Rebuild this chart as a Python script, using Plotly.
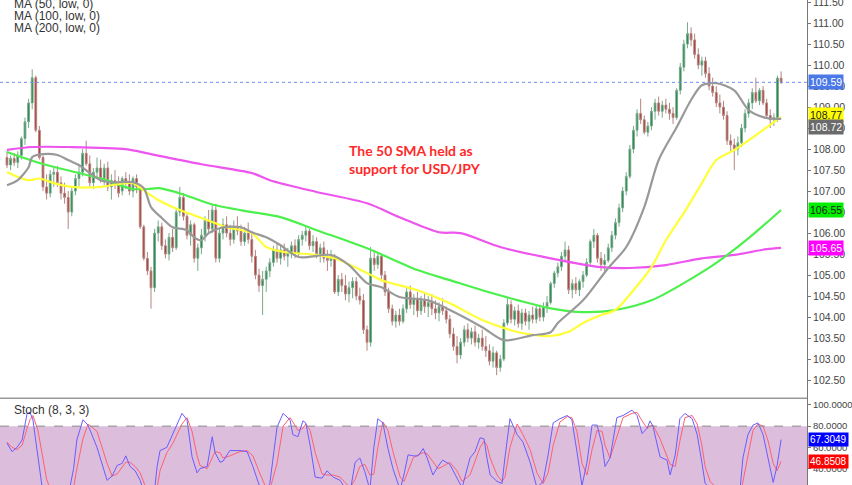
import plotly.graph_objects as go

# ---------------- DATA ----------------
OPEN = [107.80,107.62,107.78,107.68,107.85,108.25,108.65,109.10,109.70,108.45,
        107.80,107.10,106.95,107.40,107.45,107.20,106.95,106.85,106.50,107.00,
        107.30,107.45,107.90,107.65,107.20,107.45,107.55,107.30,107.55,107.10,
        107.25,107.15,107.00,107.30,107.20,107.00,107.30,107.10,106.15,105.40,
        105.10,104.70,106.00,106.15,105.70,105.50,105.90,105.65,106.50,106.85,
        106.40,105.95,106.20,105.40,105.65,105.95,106.30,106.10,106.55,105.40,
        106.00,106.20,106.00,105.85,106.15,106.05,105.80,106.00,105.85,105.45,
        105.00,104.75,104.90,105.10,105.30,105.60,105.40,105.60,105.45,105.55,
        105.70,105.50,105.85,105.95,106.05,105.70,105.80,105.50,105.65,105.40,
        105.35,105.45,104.60,104.90,104.75,104.55,104.70,104.85,104.50,104.40,
        103.70,103.40,105.40,105.25,105.45,105.00,104.60,104.20,103.90,104.05,
        103.90,104.20,104.60,104.30,104.45,104.15,104.40,104.25,104.35,104.20,
        104.10,104.25,104.15,103.95,103.60,103.30,103.10,103.40,103.70,103.50,
        103.65,103.40,103.50,103.30,103.20,102.95,103.15,102.80,103.00,103.86,
        104.30,103.95,104.15,103.85,104.10,103.90,104.05,103.95,104.20,104.00,
        104.25,104.35,104.80,105.05,105.20,105.45,105.60,104.65,104.80,104.65,
        104.85,105.00,105.30,105.80,105.95,105.40,105.25,105.35,105.65,105.95,
        106.25,106.60,107.00,107.35,108.00,108.45,108.85,108.70,108.40,108.55,
        108.90,109.10,108.90,109.05,108.95,108.85,108.75,109.40,109.95,110.50,
        110.75,110.60,110.25,110.00,110.10,109.80,109.50,109.35,109.10,109.00,
        108.80,108.20,108.10,108.00,108.15,108.50,108.85,109.10,109.35,109.15,
        109.40,109.10,108.80,108.70,108.75,109.69]
HIGH = [107.95,107.85,107.90,107.95,108.30,108.75,109.20,109.90,109.75,108.55,
        107.85,107.40,107.50,107.55,107.60,107.35,107.20,107.00,107.10,107.40,
        107.60,108.00,108.20,107.85,107.55,107.80,107.75,107.65,107.70,107.40,
        107.50,107.35,107.35,107.45,107.40,107.35,107.40,107.15,106.20,105.55,
        105.20,106.10,106.30,106.25,105.85,106.00,106.10,106.60,107.10,106.95,
        106.50,106.30,106.25,105.75,106.10,106.40,106.55,106.70,106.70,106.10,
        106.35,106.40,106.20,106.30,106.40,106.20,106.15,106.25,106.00,105.60,
        105.15,105.10,105.20,105.40,105.70,105.75,105.70,105.75,105.65,105.80,
        105.85,105.95,106.05,106.14,106.10,105.95,105.90,105.75,105.80,105.60,
        105.60,105.50,105.00,105.05,105.00,104.85,104.95,104.95,104.70,104.55,
        103.80,105.67,105.60,105.55,105.50,105.10,104.70,104.30,104.15,104.20,
        104.30,104.70,104.75,104.55,104.60,104.50,104.55,104.50,104.55,104.40,
        104.35,104.45,104.25,104.05,103.75,103.55,103.50,103.80,103.85,103.75,
        103.80,103.60,103.70,103.55,103.35,103.30,103.20,103.10,103.95,104.45,
        104.40,104.25,104.30,104.20,104.20,104.15,104.25,104.30,104.30,104.35,
        104.50,104.85,105.10,105.30,105.55,105.80,105.70,104.90,104.95,104.90,
        105.10,105.40,105.85,106.10,106.00,105.55,105.50,105.75,106.05,106.35,
        106.70,107.10,107.45,108.10,108.55,108.95,109.20,108.80,108.65,109.00,
        109.20,109.25,109.15,109.20,109.10,109.00,109.45,110.05,110.60,111.02,
        110.90,110.75,110.40,110.20,110.20,109.95,109.70,109.50,109.30,109.15,
        108.90,108.35,108.25,108.30,108.60,108.95,109.20,109.45,109.70,109.45,
        109.50,109.20,108.95,108.85,109.75,109.85]
LOW = [107.55,107.50,107.60,107.55,107.75,108.10,108.50,108.95,108.40,107.75,
       107.00,106.80,106.85,107.10,107.10,106.80,106.70,106.10,106.40,106.90,
       107.10,107.35,107.60,107.10,107.05,107.30,107.20,107.15,107.00,106.80,
       107.05,106.85,106.90,107.05,106.90,106.85,106.95,106.10,105.35,105.00,
       104.20,104.60,105.80,105.60,105.40,105.35,105.55,105.60,106.40,106.30,
       105.85,105.70,105.30,105.10,105.50,105.80,106.00,106.00,105.30,105.30,
       105.85,105.90,105.70,105.75,105.95,105.70,105.70,105.75,105.30,104.90,
       104.60,104.05,104.60,104.95,105.20,105.30,105.25,105.35,105.20,105.40,
       105.40,105.45,105.70,105.80,105.60,105.55,105.40,105.30,105.30,105.10,
       105.20,104.55,104.50,104.60,104.40,104.35,104.45,104.40,104.30,103.60,
       103.20,103.30,105.10,105.15,104.90,104.50,104.10,103.80,103.75,103.80,
       103.85,104.10,104.20,104.05,104.00,104.05,104.10,104.00,104.05,103.95,
       103.90,104.05,103.85,103.50,103.20,102.90,103.00,103.30,103.40,103.35,
       103.30,103.25,103.20,103.05,102.85,102.80,102.62,102.70,102.95,103.80,
       103.85,103.80,103.75,103.70,103.80,103.70,103.85,103.85,103.90,103.90,
       104.10,104.30,104.70,104.95,105.10,105.35,104.55,104.45,104.55,104.50,
       104.70,104.95,105.25,105.65,105.30,105.10,105.05,105.30,105.55,105.85,
       106.15,106.50,106.90,107.30,107.90,108.30,108.60,108.35,108.30,108.45,
       108.70,108.80,108.75,108.85,108.70,108.60,108.70,109.30,109.85,110.40,
       110.45,110.15,109.90,109.75,109.70,109.40,109.25,109.00,108.85,108.70,
       108.10,107.95,107.50,107.85,108.05,108.40,108.75,108.95,109.10,109.05,
       109.05,108.75,108.50,108.55,108.65,109.55]
CLOSE = [107.62,107.78,107.68,107.85,108.25,108.65,109.10,109.70,108.45,107.80,
         107.10,106.95,107.40,107.45,107.20,106.95,106.85,106.50,107.00,107.30,
         107.45,107.90,107.65,107.20,107.45,107.55,107.30,107.55,107.10,107.25,
         107.15,106.95,107.30,107.20,107.00,107.30,107.10,106.15,105.40,105.10,
         104.70,106.00,106.15,105.70,105.50,105.90,105.65,106.50,106.85,106.40,
         105.95,106.20,105.40,105.65,105.95,106.30,106.10,106.55,105.40,106.00,
         106.20,106.00,105.85,106.15,106.05,105.80,106.00,105.85,105.45,105.00,
         104.75,104.90,105.10,105.30,105.60,105.40,105.60,105.45,105.55,105.70,
         105.50,105.85,105.95,106.05,105.70,105.80,105.50,105.65,105.40,105.35,
         105.45,104.60,104.90,104.75,104.55,104.70,104.85,104.50,104.40,103.70,
         103.40,105.40,105.25,105.45,105.00,104.60,104.20,103.90,104.05,103.90,
         104.20,104.60,104.30,104.45,104.15,104.40,104.25,104.35,104.20,104.10,
         104.25,104.15,103.95,103.60,103.30,103.10,103.40,103.70,103.50,103.65,
         103.40,103.50,103.30,103.20,102.95,103.15,102.80,103.00,103.86,104.30,
         103.95,104.15,103.85,104.10,103.90,104.05,103.95,104.20,104.00,104.25,
         104.35,104.80,105.05,105.20,105.45,105.60,104.65,104.80,104.65,104.85,
         105.00,105.30,105.80,105.95,105.40,105.25,105.35,105.65,105.95,106.25,
         106.60,107.00,107.35,108.00,108.45,108.85,108.70,108.40,108.55,108.90,
         109.10,108.90,109.05,108.95,108.85,108.75,109.40,109.95,110.50,110.75,
         110.60,110.25,110.00,110.10,109.80,109.50,109.35,109.10,109.00,108.80,
         108.20,108.10,108.00,108.15,108.50,108.85,109.10,109.35,109.15,109.40,
         109.10,108.80,108.70,108.75,109.69,109.59]

# Moving averages: (bar index, value) read at sample points
MA20_X = [0,3,6,7,10,14,17,20,23,26,29,35,38,40,43,46,50,52,54,56,60,65,68,72,76,81,90,95,100,104,109,117,123,132,138,146,151,153,160,167,172,177,181,186,190,193,197,202,206,211,215]
MA20_Y = [107.14,107.26,107.57,107.81,107.88,107.86,107.74,107.62,107.43,107.26,107.21,107.21,107.07,106.62,106.36,106.14,106.07,105.90,105.83,106.00,106.14,106.14,106.02,105.90,105.71,105.43,105.48,105.24,104.81,104.71,104.48,104.40,104.17,103.76,103.45,103.57,103.64,103.86,104.40,105.17,105.67,106.62,107.74,108.52,109.17,109.52,109.57,109.40,108.93,108.74,108.72]
MA50_X = [0,6,9,13,18,26,31,35,38,42,48,54,61,68,72,77,86,91,100,104,114,123,132,142,146,151,156,160,165,169,174,179,183,188,193,197,202,206,211,215]
MA50_Y = [107.45,107.26,107.30,107.19,107.10,107.10,107.17,107.19,107.02,106.79,106.55,106.36,106.14,106.00,105.67,105.55,105.48,105.40,105.05,104.88,104.64,104.33,103.93,103.64,103.58,103.55,103.65,103.86,104.05,104.17,104.64,105.19,105.83,106.48,107.19,107.74,107.98,108.21,108.52,108.77]
MA100_X = [0,9,20,28,31,35,39,42,44,49,57,68,76,86,100,114,123,132,142,151,160,169,179,188,197,206,215]
MA100_Y = [107.93,107.67,107.43,107.25,107.15,107.05,107.05,107.07,107.04,106.92,106.68,106.50,106.38,106.07,105.64,105.12,104.88,104.64,104.40,104.21,104.12,104.17,104.40,104.81,105.29,105.88,106.55]
MA200_X = [0,7,17,33,40,54,68,73,86,100,109,120,126,137,151,165,173,183,193,202,211,215]
MA200_Y = [107.98,108.05,108.05,108.00,107.88,107.64,107.43,107.26,106.98,106.71,106.38,106.02,106.00,105.67,105.40,105.19,105.17,105.24,105.40,105.48,105.62,105.65]

# Stochastic (8,3,3)
K_X = [0,1.4,2.8,4.2,5.6,6.4,7.2,8.6,9.7,11,13,15,17,18.5,19.4,21.1,22.5,25,27.8,29.2,30.6,32,33,34.2,35.6,37,38.5,39.7,41,41.7,42.5,44.4,46.1,48.6,50,51.4,52.8,53.6,55.6,57,57.8,59.2,60,61.9,64.7,66.7,68.3,70.3,71.7,73,75,76.7,78.6,79.4,80.8,82.2,83,84.2,85.6,87.5,88.9,90.6,92.5,93.9,95.3,96.7,98,99.4,100.8,101.9,103,104.4,105.8,107.2,109.2,110.3,111.4,112.8,114.2,115.6,116.7,118.3,119.7,121,123,125,126.4,128.6,130,131.4,132.5,133.3,134.2,136.1,137.5,138.3,139.7,141.7,143.3,145.3,147.2,148.9,150.3,151.7,153.6,155.6,156.9,158.3,159.7,161.1,162.5,163.9,165.3,166.1,167.5,169.4,171.1,173.6,175,176.4,177.8,178.6,179.4,181.4,183.3,184.2,185.6,186.9,188.3,190.3,191.7,193,193.9,195.3,198,200.8,203.6,204.4,205.8,207.2,208.6,210,211.4,212.8,213.9,215]
K_Y = [64,56,60,67,92,93,86,51,24,12,8,10,14,40,67,86,81,60,29,33,43,45,52,42,38,29,12,8,20,42,57,60,73,92,86,51,36,40,42,70,55,46,47,57,57,56,42,22,18,26,79,92,86,72,70,85,83,62,32,31,38,32,29,22,18,46,50,37,20,60,87,83,59,40,20,35,53,52,52,59,50,34,42,48,44,30,22,50,56,69,68,50,34,28,26,50,87,72,65,46,22,28,53,83,87,90,86,56,24,46,81,81,62,42,50,88,90,95,90,73,78,85,80,51,48,34,53,87,92,87,72,46,26,22,14,10,20,50,72,81,83,72,50,27,43,67.3049]
D_X = K_X
D_Y = [65,60,58,62,78,86,90,76,55,30,12,9,11,22,40,68,82,75,45,33,35,42,46,46,42,36,22,12,12,22,38,55,64,82,88,75,52,43,40,50,56,55,50,52,56,57,52,35,24,20,45,80,88,84,76,78,82,76,55,35,34,34,32,27,22,30,42,44,34,35,60,84,76,56,32,28,38,50,53,55,54,46,40,42,46,38,28,34,48,60,66,62,50,34,28,32,60,82,72,58,36,26,36,62,84,89,88,75,45,34,58,76,75,62,50,70,88,92,93,85,78,80,81,68,52,44,42,66,88,90,82,62,42,28,18,12,14,28,55,76,82,80,66,45,38,46.8508]

PRICE_TICKS = [102.5,103.0,103.5,104.0,104.5,105.0,105.5,106.0,106.5,107.0,107.5,108.0,108.5,109.0,109.5,110.0,110.5,111.0,111.5]
STOCH_TICKS = [40,60,80,100]
LAST_PRICE = 109.59
LEGEND_LINES = ["MA (50, low, 0)", "MA (100, low, 0)", "MA (200, low, 0)"]

# ---------------- FIGURE ----------------
idx = list(range(len(CLOSE)))
SPLIT = 0.179  # paper y where stoch panel ends

fig = go.Figure()
fig.add_trace(go.Candlestick(
    x=idx, open=OPEN, high=HIGH, low=LOW, close=CLOSE,
    increasing=dict(fillcolor="#1a8345", line=dict(color="#78a98a", width=1)),
    decreasing=dict(fillcolor="#a8352d", line=dict(color="#b38580", width=1)),
    whiskerwidth=0, showlegend=False, hoverinfo="skip", yaxis="y"))

for xs, ys, col in [(MA200_X, MA200_Y, "#ee55ee"), (MA100_X, MA100_Y, "#4cf04c"),
                    (MA50_X, MA50_Y, "#ffff38"), (MA20_X, MA20_Y, "#999999")]:
    fig.add_trace(go.Scatter(x=xs, y=ys, mode="lines", line=dict(color=col, width=2.2, shape="spline", smoothing=0.8),
                             showlegend=False, hoverinfo="skip", yaxis="y"))

fig.add_trace(go.Scatter(x=D_X, y=D_Y, mode="lines", line=dict(color="#ff6070", width=1),
                         showlegend=False, hoverinfo="skip", yaxis="y2"))
fig.add_trace(go.Scatter(x=K_X, y=K_Y, mode="lines", line=dict(color="#6a5cff", width=1),
                         showlegend=False, hoverinfo="skip", yaxis="y2"))

tickfont = dict(family="Liberation Sans, Arial", size=10.5, color="#444")
stochfont = dict(family="Liberation Sans, Arial", size=9.5, color="#444")
fig.update_layout(
    width=852, height=485, margin=dict(l=0, r=45, t=0, b=0, autoexpand=False),
    paper_bgcolor="white", plot_bgcolor="white",
    xaxis=dict(range=[-1.94, 222.2], visible=False, rangeslider=dict(visible=False), fixedrange=True,
               automargin=False),
    yaxis=dict(domain=[SPLIT, 1], range=[102.07, 111.55], side="right", tickvals=PRICE_TICKS,
               ticktext=[f"{v:.2f}" for v in PRICE_TICKS], showgrid=False, zeroline=False,
               showline=True, linecolor="#777", linewidth=1, ticks="outside", ticklen=3,
               tickcolor="#777", tickfont=tickfont, ticklabeloverflow="allow", automargin=False),
    yaxis2=dict(domain=[0, SPLIT], range=[24.6, 106.3], side="right", anchor="x", tickvals=STOCH_TICKS,
                ticktext=[f"{v:.4f}" for v in STOCH_TICKS], showgrid=False, zeroline=False,
                showline=True, linecolor="#777", linewidth=1, ticks="outside", ticklen=3,
                tickcolor="#777", tickfont=stochfont, ticklabeloverflow="allow", automargin=False),
)

# Stoch shaded band and 80 dashed line
fig.add_shape(type="rect", xref="paper", yref="y2", x0=0, x1=1, y0=20, y1=80,
              fillcolor="#dcbddc", line=dict(width=0), layer="below")
fig.add_shape(type="line", xref="paper", yref="y2", x0=0, x1=1, y0=80, y1=80,
              line=dict(color="#888", width=1, dash="dash"))
# panel separator
fig.add_shape(type="line", xref="paper", yref="paper", x0=0, x1=1, y0=SPLIT, y1=SPLIT,
              line=dict(color="#999", width=1.5))
# last price dotted line
fig.add_shape(type="line", xref="paper", yref="y", x0=0, x1=1, y0=LAST_PRICE, y1=LAST_PRICE,
              line=dict(color="#6f8ff0", width=1, dash="dot"))

# axis value labels
def axis_label(yref, val, txt, bg, fg, yshift=0, size=10.5):
    fig.add_annotation(xref="paper", yref=yref, x=1, y=val, xanchor="left", yanchor="middle",
                       text=txt, showarrow=False, bgcolor=bg, font=dict(family="Liberation Sans, Arial", size=size, color=fg),
                       borderpad=1, xshift=1, yshift=yshift)

axis_label("y", LAST_PRICE, f"{LAST_PRICE:.2f}", "#4a78e6", "white")
axis_label("y", MA50_Y[-1], f"{MA50_Y[-1]:.2f}", "#ffff00", "#222", yshift=2)
axis_label("y", MA20_Y[-1], f"{MA20_Y[-1]:.2f}", "#6b6b6b", "white", yshift=-8)
axis_label("y", MA100_Y[-1], f"{MA100_Y[-1]:.2f}", "#00ee00", "#222")
axis_label("y", MA200_Y[-1], f"{MA200_Y[-1]:.2f}", "#ff00ff", "white")
axis_label("y2", K_Y[-1], f"{K_Y[-1]:.4f}", "#0000ff", "white", size=10)
axis_label("y2", D_Y[-1], f"{D_Y[-1]:.4f}", "#ff0000", "white", size=10)

# legend text lines (top left)
for k, t in enumerate(LEGEND_LINES):
    fig.add_annotation(xref="paper", yref="paper", x=12/807, y=1 - (4 + 12.2 * k) / 485,
                       xanchor="left", yanchor="middle", text=t, showarrow=False,
                       font=dict(family="Liberation Sans, Arial", size=12, color="#333"))
fig.add_annotation(xref="paper", yref="paper", x=12/807, y=1 - 410/485, xanchor="left", yanchor="middle",
                   text="Stoch (8, 3, 3)", showarrow=False,
                   font=dict(family="Liberation Sans, Arial", size=12, color="#333"))

# commentary
fig.add_annotation(xref="paper", yref="paper", x=347/807, y=1 - 160/485, xanchor="left", yanchor="middle",
                   text="<b>The 50 SMA held as<br>support for USD/JPY</b>", showarrow=False, align="left",
                   font=dict(family="Lato, Open Sans", size=14, color="#ff2a2a"))

fig.write_html("out.html")
